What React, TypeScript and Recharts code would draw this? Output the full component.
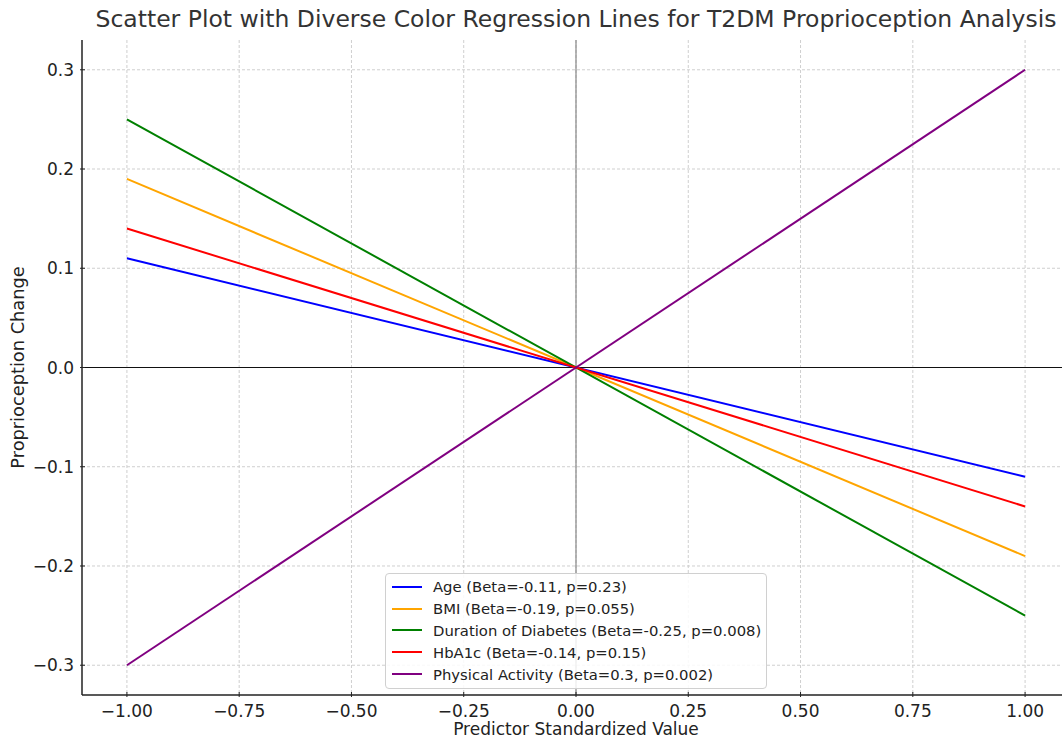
import { LineChart, Line, XAxis, YAxis, CartesianGrid, ReferenceLine, Legend } from "recharts";

const xValues = [-1, 1];
const age = [0.11, -0.11];
const bmi = [0.19, -0.19];
const duration = [0.25, -0.25];
const hba1c = [0.14, -0.14];
const activity = [-0.3, 0.3];

const xTicks = [-1, -0.75, -0.5, -0.25, 0, 0.25, 0.5, 0.75, 1];
const yTicks = [-0.3, -0.2, -0.1, 0, 0.1, 0.2, 0.3];

const series = [
  { key: "age", label: "Age (Beta=-0.11, p=0.23)", color: "#0000ff", values: age },
  { key: "bmi", label: "BMI (Beta=-0.19, p=0.055)", color: "#ffa500", values: bmi },
  { key: "duration", label: "Duration of Diabetes (Beta=-0.25, p=0.008)", color: "#008000", values: duration },
  { key: "hba1c", label: "HbA1c (Beta=-0.14, p=0.15)", color: "#ff0000", values: hba1c },
  { key: "activity", label: "Physical Activity (Beta=0.3, p=0.002)", color: "#800080", values: activity },
];

const rows = xValues.map((x, i) => {
  const r: Record<string, number> = { x };
  series.forEach((s) => (r[s.key] = s.values[i]));
  return r;
});

const FONT = "'DejaVu Sans', sans-serif";
const minus = (s: string) => s.replace("-", "\u2212");

function XTick({ x, y, payload }: any) {
  return (
    <g>
      <line x1={x} x2={x} y1={y} y2={y - 5} stroke="#222" strokeWidth={1} />
      <text x={x} y={y + 20} textAnchor="middle" fontSize={17} fill="#222" fontFamily={FONT}>
        {minus(Number(payload.value).toFixed(2))}
      </text>
    </g>
  );
}

function YTick({ x, y, payload }: any) {
  return (
    <g>
      <line x1={x} x2={x + 5} y1={y} y2={y} stroke="#222" strokeWidth={1} />
      <text x={x - 6} y={y + 6} textAnchor="end" fontSize={17} fill="#222" fontFamily={FONT}>
        {minus(Number(payload.value).toFixed(1))}
      </text>
    </g>
  );
}

function LegendBox() {
  return (
    <div
      style={{
        border: "1px solid #d0d0d0",
        borderRadius: 4,
        background: "rgba(255,255,255,0.85)",
        padding: "2px 6px 3px 6px",
        fontFamily: FONT,
        fontSize: 14.8,
        color: "#222",
        width: 382,
        boxSizing: "border-box",
      }}
    >
      {series.map((s) => (
        <div key={s.key} style={{ display: "flex", alignItems: "center", height: 21.8 }}>
          <span style={{ width: 30, height: 2, background: s.color, marginRight: 11, flexShrink: 0 }} />
          <span style={{ whiteSpace: "nowrap" }}>{s.label}</span>
        </div>
      ))}
    </div>
  );
}

export default function App() {
  return (
    <div style={{ position: "absolute", left: 0, top: 0, width: 1062, height: 737, overflow: "hidden", background: "#fff" }}>
      <div
        style={{
          position: "absolute",
          left: 576,
          top: 4,
          transform: "translateX(-50%)",
          whiteSpace: "nowrap",
          fontFamily: FONT,
          fontSize: 23.5,
          lineHeight: "30px",
          color: "#333",
        }}
      >
        Scatter Plot with Diverse Color Regression Lines for T2DM Proprioception Analysis
      </div>
      <div style={{ position: "absolute", left: 0, top: 0 }}>
        <LineChart width={1080} height={737} data={rows} margin={{ top: 40, right: 10, left: 0, bottom: 0 }}>
          <CartesianGrid stroke="#cfcfcf" strokeDasharray="3 2" horizontalValues={yTicks} verticalValues={xTicks} />
          <XAxis
            dataKey="x"
            type="number"
            domain={[-1.1, 1.1]}
            ticks={xTicks}
            height={42}
            tick={<XTick />}
            tickLine={false}
            tickSize={0}
            axisLine={{ stroke: "#222", strokeWidth: 1.5 }}
            label={{ value: "Predictor Standardized Value", position: "insideBottom", offset: 2, fontSize: 17, fill: "#222", fontFamily: FONT }}
          />
          <YAxis
            type="number"
            domain={[-0.33, 0.33]}
            ticks={yTicks}
            width={82}
            tick={<YTick />}
            tickLine={false}
            tickSize={0}
            allowDataOverflow
            axisLine={{ stroke: "#222", strokeWidth: 1.5 }}
            label={{ value: "Proprioception Change", angle: -90, position: "insideLeft", offset: 18, fontSize: 17.8, fill: "#222", fontFamily: FONT, style: { textAnchor: "middle" } }}
          />
          <ReferenceLine x={0} stroke="#888888" strokeWidth={1.2} />
          <ReferenceLine y={0} stroke="#111111" strokeWidth={1} />
          {series.map((s) => (
            <Line
              key={s.key}
              dataKey={s.key}
              type="linear"
              stroke={s.color}
              strokeWidth={2}
              dot={false}
              isAnimationActive={false}
            />
          ))}
          <Legend
            layout="vertical"
            align="center"
            verticalAlign="middle"
            content={<LegendBox />}
            wrapperStyle={{ position: "absolute", left: 385, top: 573, width: 382 }}
          />
        </LineChart>
      </div>
    </div>
  );
}
